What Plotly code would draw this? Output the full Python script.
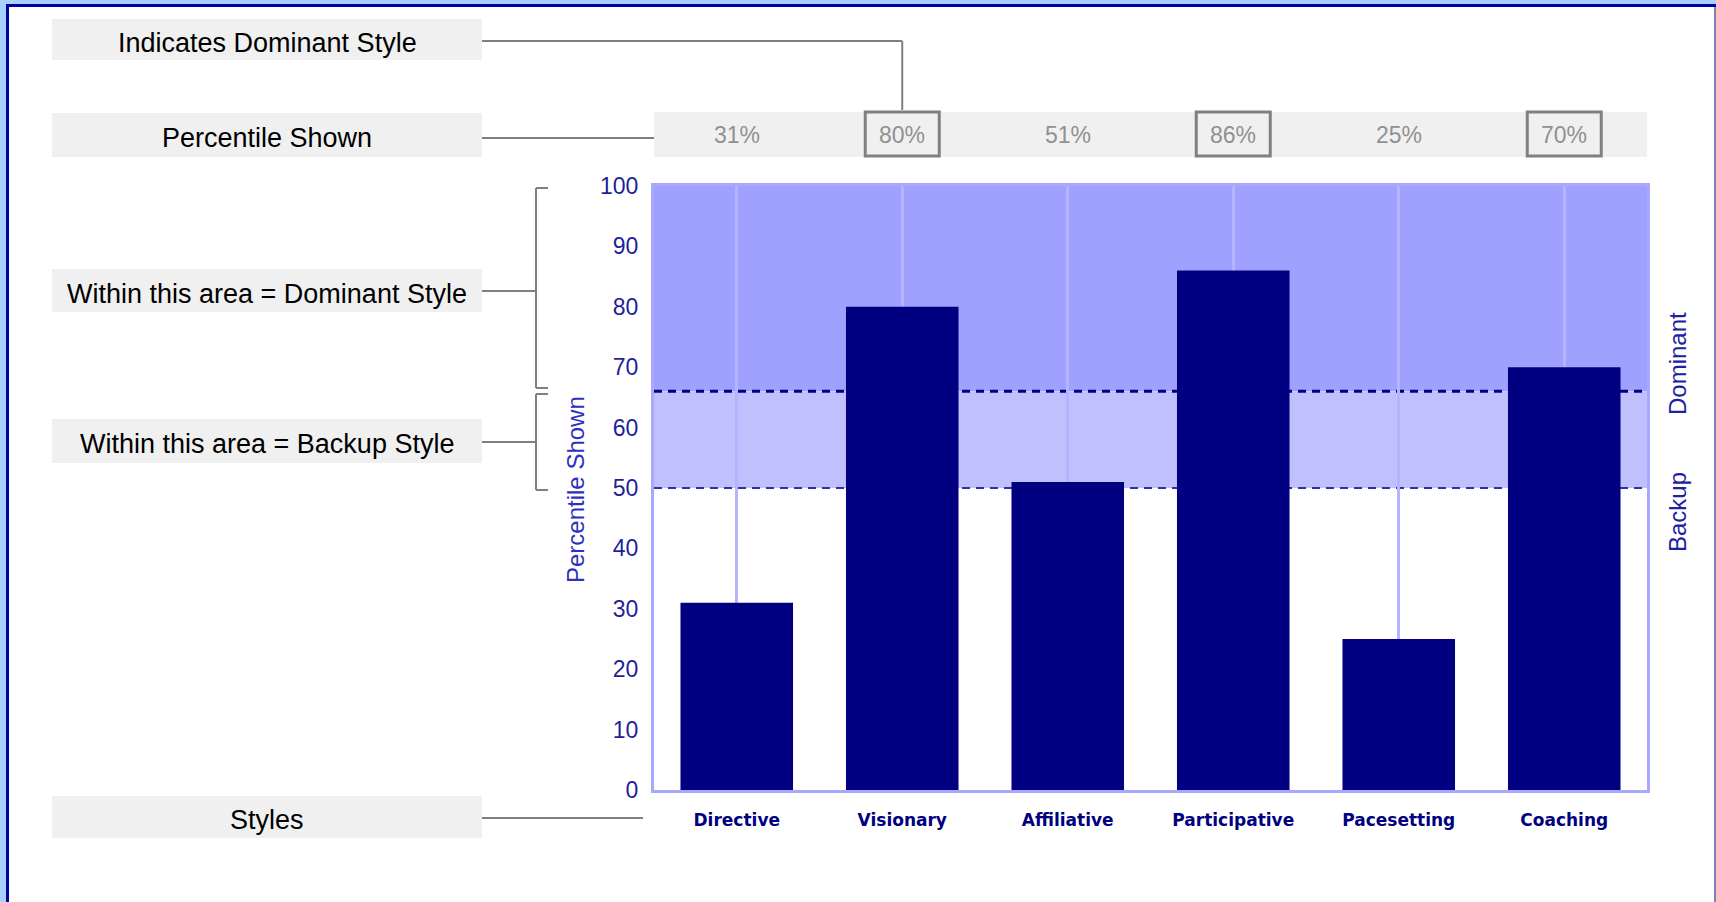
import plotly.graph_objects as go

# ---------------- data ----------------
styles = ["Directive", "Visionary", "Affiliative", "Participative", "Pacesetting", "Coaching"]
percentiles = [31, 80, 51, 86, 25, 70]
dominant_threshold = 66
backup_threshold = 50
y_ticks = [0, 10, 20, 30, 40, 50, 60, 70, 80, 90, 100]
left_labels = ["Indicates Dominant Style", "Percentile Shown",
               "Within this area = Dominant Style", "Within this area = Backup Style", "Styles"]

# ---------------- geometry (pixels) ----------------
W, H = 1716, 902
PL, PR, PT, PB = 654, 1647, 186, 790   # plot area
PW, PH = PR - PL, PB - PT


def px(x):
    return (x - PL) / PW


def py(y):
    return (PB - y) / PH


fig = go.Figure()
fig.add_trace(go.Bar(
    x=styles, y=percentiles,
    marker=dict(color="#000080", line=dict(width=0)),
    hoverinfo="skip",
))

shapes = []
annotations = []
GREY = "#808080"
BOXFILL = "#f0f0f0"

# background bands
shapes.append(dict(type="rect", xref="paper", yref="y", x0=0, x1=1,
                   y0=dominant_threshold, y1=100, fillcolor="#a0a0ff",
                   line=dict(width=0), layer="below"))
shapes.append(dict(type="rect", xref="paper", yref="y", x0=0, x1=1,
                   y0=backup_threshold, y1=dominant_threshold, fillcolor="#c0c0ff",
                   line=dict(width=0), layer="below"))
# dashed threshold lines
shapes.append(dict(type="line", xref="paper", yref="y", x0=0, x1=1,
                   y0=dominant_threshold, y1=dominant_threshold,
                   line=dict(color="#000080", width=3, dash="8px,6px"), layer="between"))
shapes.append(dict(type="line", xref="paper", yref="y", x0=0, x1=1,
                   y0=backup_threshold, y1=backup_threshold,
                   line=dict(color="#3030a0", width=2, dash="8px,6px"), layer="between"))

# frame of the page
shapes.append(dict(type="rect", xref="paper", yref="paper", x0=px(0), x1=px(6), y0=py(0), y1=py(H),
                   fillcolor="#a8d0ff", line=dict(width=0), layer="above"))
shapes.append(dict(type="rect", xref="paper", yref="paper", x0=px(0), x1=px(W), y0=py(0), y1=py(4),
                   fillcolor="#a8d0ff", line=dict(width=0), layer="above"))
shapes.append(dict(type="rect", xref="paper", yref="paper", x0=px(6), x1=px(9), y0=py(4), y1=py(H),
                   fillcolor="#0000a0", line=dict(width=0), layer="above"))
shapes.append(dict(type="rect", xref="paper", yref="paper", x0=px(6), x1=px(W), y0=py(4), y1=py(7),
                   fillcolor="#0000a0", line=dict(width=0), layer="above"))
shapes.append(dict(type="line", xref="paper", yref="paper", x0=px(1715), x1=px(1715), y0=py(7), y1=py(H),
                   line=dict(color="#8080c0", width=2), layer="above"))

# percentile band on top
shapes.append(dict(type="rect", xref="paper", yref="paper", x0=0, x1=1, y0=py(157), y1=py(112),
                   fillcolor=BOXFILL, line=dict(width=0), layer="below"))
cw = PW / len(styles)
dominant_idx = [i for i, v in enumerate(percentiles) if v >= dominant_threshold]
for i, v in enumerate(percentiles):
    cx = PL + cw * (i + 0.5)
    annotations.append(dict(xref="paper", yref="paper", x=px(cx), y=py(135), text=f"{v}%",
                            showarrow=False, xanchor="center", yanchor="middle",
                            font=dict(family="Liberation Sans", size=23, color="#909090")))
    if i in dominant_idx:
        shapes.append(dict(type="rect", xref="paper", yref="paper", x0=px(cx - 37), x1=px(cx + 37),
                           y0=py(156), y1=py(112), line=dict(color=GREY, width=3),
                           fillcolor="rgba(0,0,0,0)", layer="above"))

# left label boxes
box_y = [(19, 60), (113, 157), (269, 312), (419, 463), (796, 838)]
for label, (y0, y1) in zip(left_labels, box_y):
    shapes.append(dict(type="rect", xref="paper", yref="paper", x0=px(52), x1=px(482),
                       y0=py(y1), y1=py(y0), fillcolor=BOXFILL, line=dict(width=0), layer="below"))
    annotations.append(dict(xref="paper", yref="paper", x=px(267), y=py((y0 + y1) / 2 + 3), text=label,
                            showarrow=False, xanchor="center", yanchor="middle",
                            font=dict(family="Liberation Sans", size=27, color="#000000")))


def seg(x0, y0, x1, y1):
    shapes.append(dict(type="line", xref="paper", yref="paper", x0=px(x0), x1=px(x1),
                       y0=py(y0), y1=py(y1), line=dict(color=GREY, width=2), layer="above"))


first_dom_x = PL + cw * (dominant_idx[0] + 0.5)
seg(482, 41, first_dom_x, 41)
seg(first_dom_x, 41, first_dom_x, 110)
seg(482, 138, PL, 138)
seg(482, 291, 536, 291)
seg(536, 188, 536, 388)
seg(536, 188, 548, 188)
seg(536, 388, 548, 388)
seg(482, 442, 536, 442)
seg(536, 394, 536, 490)
seg(536, 394, 548, 394)
seg(536, 490, 548, 490)
seg(482, 818, 643, 818)

# axis titles
annotations.append(dict(xref="paper", yref="paper", x=px(575), y=py(490), text="Percentile Shown",
                        textangle=-90, showarrow=False, xanchor="center", yanchor="middle",
                        font=dict(family="Liberation Sans", size=24, color="#3030c0")))
annotations.append(dict(xref="paper", yref="paper", x=px(1677), y=py(364), text="Dominant",
                        textangle=-90, showarrow=False, xanchor="center", yanchor="middle",
                        font=dict(family="Liberation Sans", size=24, color="#2020a0")))
annotations.append(dict(xref="paper", yref="paper", x=px(1677), y=py(512), text="Backup",
                        textangle=-90, showarrow=False, xanchor="center", yanchor="middle",
                        font=dict(family="Liberation Sans", size=24, color="#2020a0")))

fig.update_layout(
    width=W, height=H,
    margin=dict(l=PL, r=W - PR, t=PT, b=H - PB, pad=0),
    paper_bgcolor="white", plot_bgcolor="white",
    showlegend=False,
    bargap=0.32,
    shapes=shapes, annotations=annotations,
    xaxis=dict(
        type="category", showgrid=True, gridcolor="#b4b4ff", gridwidth=3,
        showline=True, linecolor="#a8a8ff", linewidth=3, mirror=True,
        ticks="", ticklabelstandoff=13,
        tickfont=dict(family="DejaVu Sans", size=17, color="#000080", weight="bold"),
        fixedrange=True,
    ),
    yaxis=dict(
        range=[0, 100], tickvals=y_ticks, showgrid=False, zeroline=False,
        showline=True, linecolor="#a8a8ff", linewidth=3, mirror=True,
        ticks="", ticklabelstandoff=8,
        tickfont=dict(family="Liberation Sans", size=23, color="#1f1f99"),
        fixedrange=True,
    ),
)

fig.write_html("out.html", config={"displayModeBar": False})
